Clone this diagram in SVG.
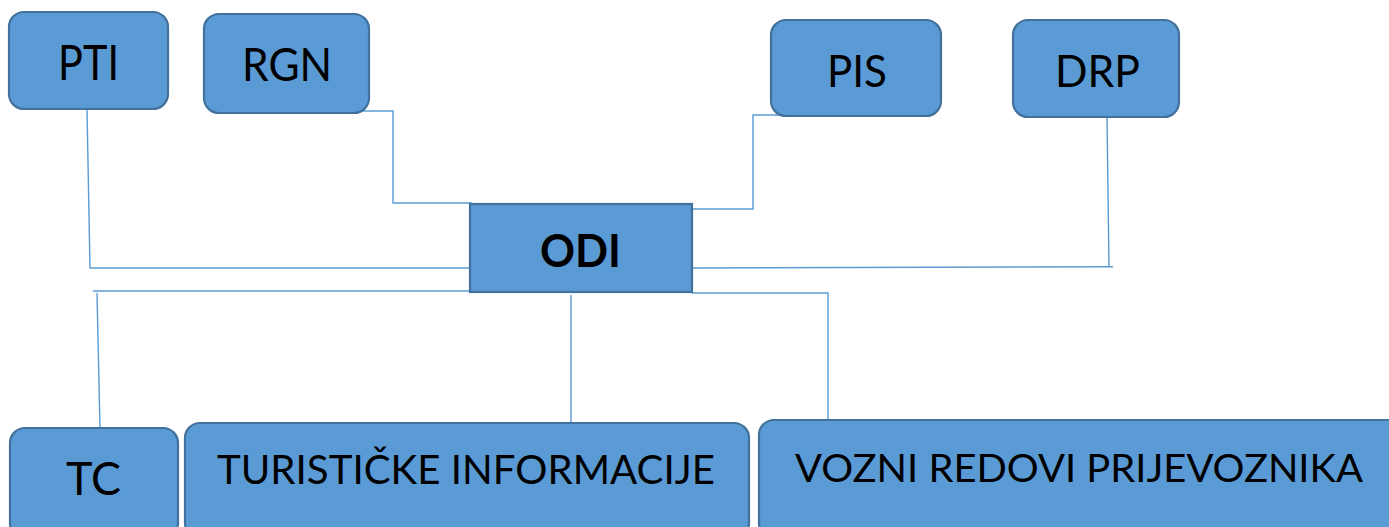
<svg xmlns="http://www.w3.org/2000/svg" width="1389" height="527" viewBox="0 0 1389 527">
<style>
.box{fill:#5B9BD5;stroke:#41719C;stroke-width:2.2}
.lbl{font-family:Lato,"Open Sans","Liberation Sans",sans-serif;fill:#000;text-anchor:start}
.con{fill:none;stroke:#5B9BD5;stroke-width:1.4}
</style>
<rect width="1389" height="527" fill="#fff"/>
<g id="connectors">
<polyline class="con" points="87,109 90,268 470,268"/>
<polyline class="con" points="93,291 470,291"/>
<polyline class="con" points="97,293 100,429"/>
<polyline class="con" points="362,111 393,111 393,203 472,203"/>
<polyline class="con" points="692,209 753,209 753,115 815,115"/>
<polyline class="con" points="1107,117 1109,267"/>
<polyline class="con" points="692,268 1113,266.7"/>
<polyline class="con" points="692,293 828,293 828,420"/>
<polyline class="con" points="571,295 571,423"/>
</g>
<g id="node-pti">
<rect class="box" x="9" y="12" width="159" height="97" rx="15"/>
<text class="lbl" x="58" y="80" font-size="49" textLength="61" lengthAdjust="spacingAndGlyphs">PTI</text>
</g>
<g id="node-rgn">
<rect class="box" x="204" y="14" width="165" height="99" rx="15"/>
<text class="lbl" x="242" y="81" font-size="46" textLength="90" lengthAdjust="spacingAndGlyphs">RGN</text>
</g>
<g id="node-pis">
<rect class="box" x="771" y="20" width="170" height="96" rx="15"/>
<text class="lbl" x="827" y="87" font-size="45" textLength="60" lengthAdjust="spacingAndGlyphs">PIS</text>
</g>
<g id="node-drp">
<rect class="box" x="1013" y="20" width="166" height="97" rx="15"/>
<text class="lbl" x="1055" y="87" font-size="45" textLength="85" lengthAdjust="spacingAndGlyphs">DRP</text>
</g>
<g id="node-odi">
<rect class="box" x="470" y="204" width="222" height="88"/>
<text class="lbl" x="540" y="267" font-size="46" font-weight="bold" textLength="81" lengthAdjust="spacingAndGlyphs">ODI</text>
</g>
<g id="node-tc">
<rect class="box" x="10" y="428" width="168" height="110" rx="15"/>
<text class="lbl" x="66" y="495" font-size="46" textLength="55" lengthAdjust="spacingAndGlyphs">TC</text>
</g>
<g id="node-turisticke">
<rect class="box" x="185" y="423" width="564" height="115" rx="15"/>
<text class="lbl" x="217" y="484" font-size="40" textLength="498" lengthAdjust="spacingAndGlyphs">TURISTIČKE INFORMACIJE</text>
</g>
<g id="node-vozni">
<rect class="box" x="759" y="420" width="650" height="118" rx="15"/>
<text class="lbl" x="795" y="482" font-size="39" textLength="568" lengthAdjust="spacingAndGlyphs">VOZNI REDOVI PRIJEVOZNIKA</text>
</g>
</svg>
